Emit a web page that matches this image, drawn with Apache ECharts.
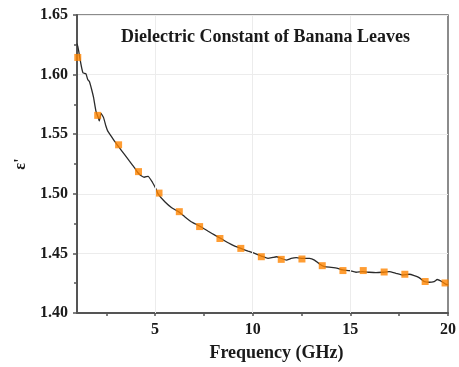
<!DOCTYPE html>
<html>
<head>
<meta charset="utf-8">
<script src="https://cdn.jsdelivr.net/npm/echarts@6/dist/echarts.min.js"></script>
<style>
  html, body { margin: 0; padding: 0; background: #fff; }
  #chart { width: 459px; height: 367px; }
</style>
</head>
<body>
<div id="chart"></div>
<script>
// Measured dielectric constant (dense trace)
const freq = [1.00,1.04,1.09,1.16,1.24,1.31,1.46,1.55,1.63,1.75,1.85,1.97,2.09,2.14,2.23,2.36,2.48,2.57,2.74,2.91,3.16,3.42,3.67,3.93,4.10,4.27,4.44,4.64,4.86,5.04,5.15,5.51,5.85,6.22,6.53,6.87,7.30,7.72,8.06,8.37,8.74,9.08,9.39,9.76,10.10,10.44,10.78,11.04,11.21,11.46,11.72,11.97,12.23,12.57,12.91,13.16,13.42,13.67,14.02,14.35,14.61,14.95,15.29,15.63,15.97,16.31,16.65,16.99,17.33,17.67,18.01,18.27,18.52,18.78,19.03,19.29,19.45,19.68,19.88,20.00];
const eps = [1.6260,1.6236,1.6194,1.6125,1.6056,1.6014,1.6006,1.5958,1.5944,1.5875,1.5806,1.5694,1.5639,1.5611,1.5675,1.5639,1.5569,1.5528,1.5486,1.5444,1.5389,1.5333,1.5278,1.5222,1.5181,1.5153,1.5139,1.5147,1.5097,1.5042,1.5000,1.4931,1.4883,1.4847,1.4806,1.4764,1.4728,1.4686,1.4653,1.4625,1.4589,1.4561,1.4542,1.4519,1.4500,1.4478,1.4458,1.4467,1.4472,1.4458,1.4444,1.4458,1.4464,1.4458,1.4458,1.4444,1.4411,1.4389,1.4383,1.4375,1.4361,1.4356,1.4342,1.4347,1.4342,1.4339,1.4342,1.4347,1.4333,1.4319,1.4325,1.4314,1.4297,1.4264,1.4258,1.4264,1.4281,1.4264,1.4242,1.4236];

// Sampled points shown as square markers
const markerFreq = [1.04,2.06,3.13,4.15,5.20,6.24,7.28,8.32,9.39,10.44,11.46,12.52,13.56,14.62,15.66,16.73,17.79,18.83,19.85];
const markerEps = [1.6144,1.5658,1.5411,1.5186,1.5006,1.4850,1.4725,1.4625,1.4542,1.4472,1.4450,1.4453,1.4397,1.4356,1.4356,1.4344,1.4325,1.4264,1.4252];

// Axis ticks and labels
const xLabelValues = [5, 10, 15, 20];
const xTickValues = [2.5, 5, 7.5, 10, 12.5, 15, 17.5, 20];
const xGridValues = [5, 10, 15];

const titleText = 'Dielectric Constant of Banana Leaves';
const xName = 'Frequency (GHz)';
const yName = "ε'";

const FONT = "'Liberation Serif', 'Times New Roman', serif";
const TEXT = '#1a1a1a';

const chart = echarts.init(document.getElementById('chart'), null, { renderer: 'canvas' });

chart.setOption({
  animation: false,
  backgroundColor: '#fff',
  title: {
    text: titleText,
    left: 116,
    top: 23,
    textStyle: { fontFamily: FONT, fontWeight: 'bold', fontSize: 18, color: TEXT }
  },
  grid: {
    left: 77, right: 10, top: 15, bottom: 52,
    show: true, borderColor: '#666', borderWidth: 1.5, backgroundColor: 'transparent'
  },
  xAxis: {
    type: 'value',
    min: 1, max: 20,
    name: xName,
    nameLocation: 'middle',
    nameGap: 31,
    nameTextStyle: { fontFamily: FONT, fontWeight: 'bold', fontSize: 18, color: TEXT, padding: [0, 0, 0, 28] },
    axisLine: { show: true, onZero: false, lineStyle: { color: '#555', width: 2 } },
    axisTick: { show: true, inside: false, length: 3, customValues: xTickValues, lineStyle: { color: '#555', width: 1.5 } },
    axisLabel: { customValues: xLabelValues, margin: 9, fontFamily: FONT, fontWeight: 'bold', fontSize: 16, color: TEXT },
    splitLine: { show: false }
  },
  yAxis: {
    type: 'value',
    min: 1.40, max: 1.65, interval: 0.05,
    name: yName,
    nameLocation: 'middle',
    nameGap: 43,
    nameRotate: 90,
    nameTextStyle: { fontFamily: FONT, fontWeight: 'bold', fontSize: 16, color: TEXT },
    axisLine: { show: true, onZero: false, lineStyle: { color: '#555', width: 2 } },
    axisTick: { show: true, inside: false, length: 4, lineStyle: { color: '#555', width: 1.5 } },
    minorTick: { show: true, splitNumber: 2, length: 3, lineStyle: { color: '#555', width: 1.5 } },
    axisLabel: {
      margin: 9, fontFamily: FONT, fontWeight: 'bold', fontSize: 16, color: TEXT,
      formatter: v => v.toFixed(2)
    },
    splitLine: { show: true, lineStyle: { color: '#ececec', width: 1 } }
  },
  series: [
    {
      type: 'line',
      data: freq.map((f, i) => [f, eps[i]]),
      symbol: 'none',
      smooth: 0.15,
      lineStyle: { color: '#2b2b2b', width: 1.3 },
      markLine: {
        silent: true,
        symbol: 'none',
        label: { show: false },
        lineStyle: { color: '#ececec', width: 1, type: 'solid' },
        data: xGridValues.map(v => ({ xAxis: v }))
      },
      z: 3
    },
    {
      type: 'scatter',
      data: markerFreq.map((f, i) => [f, markerEps[i]]),
      symbol: 'rect',
      symbolSize: 7,
      itemStyle: { color: '#ff8400' },
      z: 4
    }
  ]
});
</script>
</body>
</html>
